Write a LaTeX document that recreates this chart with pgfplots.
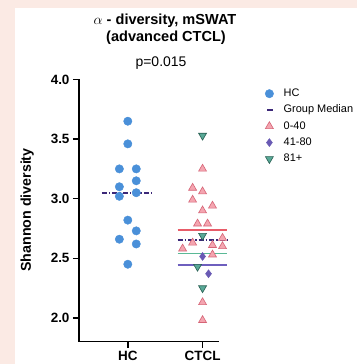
\documentclass[border=0pt]{standalone}
\usepackage{fontspec}
\setmainfont{Liberation Sans}
\usepackage{pgfplots}
\pgfplotsset{compat=1.18}
\definecolor{pinkbg}{RGB}{251,234,228}
\definecolor{hcblue}{RGB}{74,144,217}
\definecolor{pinkfill}{RGB}{244,165,176}
\definecolor{pinkedge}{RGB}{214,100,118}
\definecolor{diapurple}{RGB}{105,90,180}
\definecolor{greenfill}{RGB}{88,168,150}
\definecolor{greenedge}{RGB}{40,95,82}
\definecolor{meddark}{RGB}{60,40,120}
\definecolor{medred}{RGB}{232,92,105}
\definecolor{medgreen}{RGB}{90,185,150}
\definecolor{medpurple}{RGB}{110,95,190}
\begin{document}
\begin{tikzpicture}
\fill[pinkbg] (0,0) rectangle (357bp,364bp);
\fill[white] (15bp,0) rectangle (357bp,356bp);
% title
\node[anchor=base,font=\fontsize{14.6}{18}\selectfont\bfseries] at (165bp,339bp) {$\alpha$ - diversity, mSWAT};
\node[anchor=base,font=\fontsize{14.6}{18}\selectfont\bfseries] at (166bp,322bp) {(advanced CTCL)};
\node[anchor=base,font=\fontsize{14}{17}\selectfont] at (161bp,297bp) {p=0.015};
\begin{axis}[
  at={(79bp,22.3bp)}, anchor=south west,
  scale only axis, width=140bp, height=262.2bp,
  xmin=0.347, xmax=2.22, ymin=1.8, ymax=4.0,
  clip=false,
  axis x line*=bottom, axis y line*=left,
  axis line style={line width=1.5bp, black},
  every tick/.style={line width=1.5bp, black},
  tick align=outside, major tick length=6bp,
  xtick={1,2}, xticklabels={HC,CTCL},
  ytick={2,2.5,3,3.5,4},
  /pgf/number format/assume math mode=true,
  yticklabel style={/pgf/number format/.cd, fixed, fixed zerofill, precision=1},
  tick label style={font=\fontsize{13.5}{16}\selectfont\bfseries},
  ylabel={Shannon diversity},
  ylabel style={at={(axis description cs:-0.37,0.502)}, anchor=center, font=\fontsize{14.3}{16}\selectfont\bfseries},
  legend style={at={(axis description cs:1,1)}, anchor=north west, xshift=43bp, yshift=-6bp,
    draw=none, fill=none, font=\fontsize{11}{13}\selectfont, row sep=4.3bp,
    nodes={inner sep=1bp, text height=8bp, text depth=2bp},
    /tikz/every odd column/.append style={column sep=9bp}},
  legend cell align=left,
]
% medians
\addplot[forget plot, meddark, line width=1.8bp, dash pattern=on 5bp off 2bp on 1.5bp off 2bp] coordinates {(0.653,3.05) (1.347,3.05)};
\addplot[forget plot, medred, line width=1.8bp] coordinates {(1.667,2.74) (2.333,2.74)};
\addplot[forget plot, meddark, line width=1.8bp, dash pattern=on 5bp off 2bp on 1.5bp off 2bp] coordinates {(1.667,2.655) (2.333,2.655)};
\addplot[forget plot, medgreen, line width=1.8bp] coordinates {(1.667,2.54) (2.333,2.54)};
\addplot[forget plot, medpurple, line width=1.8bp] coordinates {(1.667,2.445) (2.333,2.445)};
% HC
\addplot[only marks, mark=*, mark size=4.2bp, hcblue, mark options={draw=hcblue, fill=hcblue}] coordinates {
(1,3.65) (1,3.46) (0.887,3.25) (1.113,3.25) (1.113,3.15) (0.887,3.10) (0.887,3.02) (1.113,3.05)
(1,2.82) (1.113,2.73) (0.887,2.66) (1.113,2.62) (1,2.45)};
\addlegendentry{HC}
\addlegendimage{legend image code/.code={\draw[meddark, line width=1.8bp] (0.22cm,0cm) -- (0.42cm,0cm);}}
\addlegendentry{Group Median}
% 0-40
\addplot[only marks, mark=triangle*, mark size=4.6bp, mark options={draw=pinkedge, fill=pinkfill, line width=0.6bp}] coordinates {
(2,3.25) (1.867,3.09) (2,3.06) (1.867,2.99) (2.133,2.94) (2,2.90) (1.933,2.79) (2.067,2.79)
(2.267,2.67) (1.867,2.63) (2.133,2.61) (2.267,2.60) (1.733,2.58) (2.133,2.53) (2,2.13) (2,1.98)};
\addlegendentry{0-40}
% 41-80
\addplot[only marks, mark=diamond*, mark size=4bp, mark options={draw=diapurple, fill=diapurple}] coordinates {
(2,2.515) (2.08,2.37)};
\addlegendentry{41-80}
% 81+
\addplot[only marks, mark=triangle*, mark size=4.6bp, mark options={rotate=180, draw=greenedge, fill=greenfill, line width=0.6bp}] coordinates {
(2,3.53) (2,2.69) (1.933,2.43) (2,2.25)};
\addlegendentry{81+}
\end{axis}
\pgfresetboundingbox
\path[use as bounding box] (0,0) rectangle (357bp,364bp);
\end{tikzpicture}
\end{document}
